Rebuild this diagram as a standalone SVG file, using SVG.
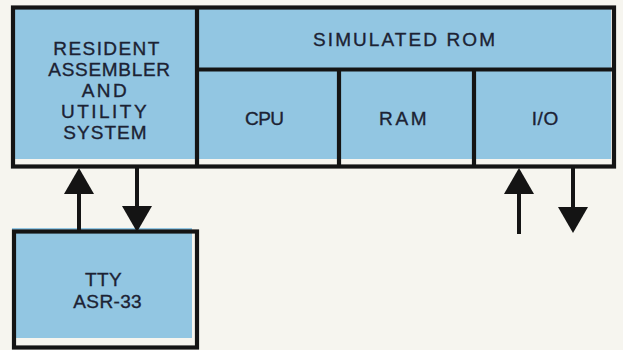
<svg xmlns="http://www.w3.org/2000/svg" width="623" height="350" viewBox="0 0 623 350">
  <defs>
    <style>
      .bg { fill: #f6f5ef; }
      .fill { fill: #92c6e2; }
      .frame { fill: none; stroke: #141414; stroke-width: 4.2; }
      .div { stroke: #141414; stroke-width: 4.2; }
      .lbl { font-family: "Liberation Sans", Arial, sans-serif; font-size: 19px; fill: #1c2233; stroke: #1c2233; stroke-width: 0.35px; text-anchor: middle; }
      .conn { stroke: #141414; stroke-width: 4; fill: none; marker-end: url(#head); }
    </style>
    <marker id="head" viewBox="0 0 26 30" refX="20" refY="15" markerWidth="26" markerHeight="30" markerUnits="userSpaceOnUse" orient="auto">
      <path d="M0,0 L26,15 L0,30 Z" fill="#141414"/>
    </marker>
  </defs>
  <rect class="bg" x="0" y="0" width="623" height="350"/>

  <g id="main-fill">
    <rect class="fill" x="14" y="8" width="597" height="151"/>
    <rect class="frame" x="13" y="7.5" width="601" height="159"/>
  </g>

  <g id="resident">
    <line class="div" x1="197" y1="7.5" x2="197" y2="166.5"/>
    <text class="lbl" x="106.3" y="54.8" textLength="106" lengthAdjust="spacing">RESIDENT</text>
    <text class="lbl" x="109.2" y="75.8" textLength="121.7" lengthAdjust="spacing">ASSEMBLER</text>
    <text class="lbl" x="104.2" y="96.8" textLength="45" lengthAdjust="spacing">AND</text>
    <text class="lbl" x="103.8" y="117.8" textLength="85.7" lengthAdjust="spacing">UTILITY</text>
    <text class="lbl" x="105" y="138.8" textLength="83.3" lengthAdjust="spacing">SYSTEM</text>
  </g>

  <g id="simulated-rom">
    <line class="div" x1="197" y1="69.5" x2="614" y2="69.5"/>
    <text class="lbl" x="404" y="45.8" textLength="182" lengthAdjust="spacing">SIMULATED ROM</text>
  </g>

  <g id="cpu">
    <text class="lbl" x="264.5" y="125.2" textLength="39" lengthAdjust="spacing">CPU</text>
  </g>

  <g id="ram">
    <line class="div" x1="339" y1="69.5" x2="339" y2="166.5"/>
    <text class="lbl" x="402.8" y="125.2" textLength="47.7" lengthAdjust="spacing">RAM</text>
  </g>

  <g id="io">
    <line class="div" x1="474" y1="69.5" x2="474" y2="166.5"/>
    <text class="lbl" x="545" y="125.2" textLength="26.6" lengthAdjust="spacing">I/O</text>
  </g>

  <g id="tty">
    <rect class="fill" x="12" y="228" width="180" height="110"/>
    <rect class="frame" x="14" y="231.5" width="183" height="116"/>
    <text class="lbl" x="103.3" y="286" textLength="36.7" lengthAdjust="spacing">TTY</text>
    <text class="lbl" x="107.5" y="307.7" textLength="68.4" lengthAdjust="spacing">ASR-33</text>
  </g>

  <g id="connectors">
    <line class="conn" x1="79" y1="231" x2="79" y2="174"/>
    <line class="conn" x1="137" y1="167" x2="137" y2="226"/>
    <line class="conn" x1="519" y1="234" x2="519" y2="174"/>
    <line class="conn" x1="573" y1="167" x2="573" y2="227"/>
  </g>
</svg>
